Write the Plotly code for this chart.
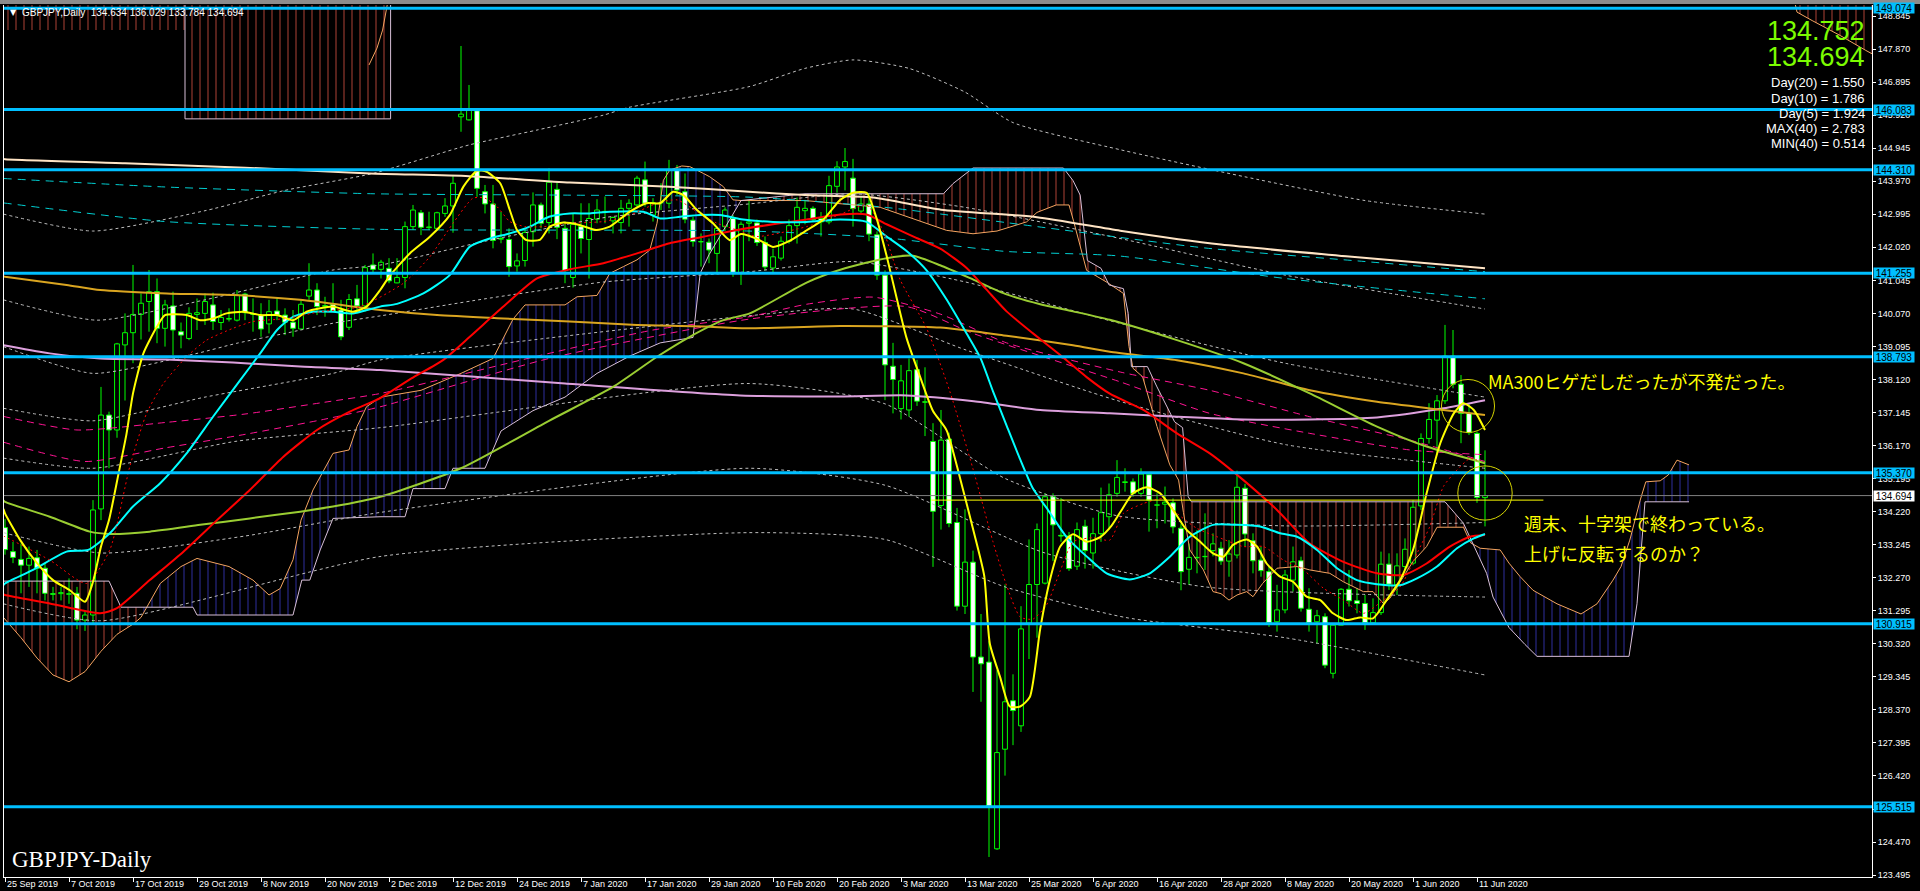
import numpy as np
import plotly.graph_objects as go

# ---------------- data ----------------
tick_labels = ["25 Sep 2019", "7 Oct 2019", "17 Oct 2019", "29 Oct 2019", "8 Nov 2019", "20 Nov 2019",
               "2 Dec 2019", "12 Dec 2019", "24 Dec 2019", "7 Jan 2020", "17 Jan 2020", "29 Jan 2020",
               "10 Feb 2020", "20 Feb 2020", "3 Mar 2020", "13 Mar 2020", "25 Mar 2020", "6 Apr 2020",
               "16 Apr 2020", "28 Apr 2020", "8 May 2020", "20 May 2020", "1 Jun 2020", "11 Jun 2020"]
bars_per_label = 8

opens = [133.75, 133.04, 132.81, 132.64, 132.86, 132.55, 131.80, 131.80, 131.78, 131.81,
         131.02, 131.17, 134.30, 137.07, 136.63, 139.14, 139.50, 140.04, 140.42, 140.71,
         139.63, 140.29, 139.53, 139.33, 140.04, 140.07, 140.32, 139.80, 139.90, 139.87,
         140.64, 140.04, 140.02, 139.76, 140.14, 140.02, 139.81, 139.61, 140.58, 140.76,
         140.28, 140.34, 140.17, 139.66, 140.50, 140.29, 141.50, 141.37, 141.40, 140.97,
         141.13, 142.63, 143.04, 142.60, 142.58, 143.02, 143.24, 145.87, 145.78, 146.05,
         143.66, 143.30, 142.26, 142.25, 141.47, 141.63, 142.48, 143.27, 142.75, 143.73,
         142.58, 141.13, 142.63, 142.25, 142.85, 143.06, 142.80, 142.75, 143.17, 143.27,
         144.01, 142.97, 143.33, 143.32, 144.32, 143.66, 142.82, 142.19, 142.17, 141.84,
         142.63, 142.87, 141.25, 142.73, 142.74, 142.16, 141.41, 141.70, 142.20, 142.66,
         143.10, 143.17, 142.87, 142.77, 143.82, 144.39, 144.06, 143.09, 143.30, 142.39,
         141.20, 138.51, 137.26, 137.22, 138.41, 137.46, 136.29, 134.40, 136.36, 133.90,
         131.43, 132.73, 129.93, 129.78, 124.27, 127.21, 128.64, 127.90, 130.93, 132.07,
         132.11, 134.66, 133.52, 133.50, 132.61, 133.79, 133.00, 133.57, 134.07, 134.76,
         135.08, 135.10, 134.76, 135.31, 134.41, 134.44, 134.48, 133.73, 132.52, 132.86,
         132.89, 133.07, 133.14, 132.76, 132.94, 134.91, 133.36, 132.79, 132.45, 130.97,
         131.32, 132.20, 132.77, 131.34, 130.97, 131.12, 129.45, 130.87, 131.93, 131.59,
         131.51, 130.94, 131.24, 132.67, 132.06, 132.60, 132.70, 134.39, 136.38, 136.92,
         137.49, 138.81, 137.98, 137.12, 136.53, 134.634]
highs = [134.00, 133.33, 133.28, 133.19, 133.09, 132.70, 132.00, 132.00, 132.25, 132.00,
         131.30, 134.56, 137.90, 137.17, 139.20, 140.07, 141.50, 140.66, 141.35, 141.10,
         140.47, 140.71, 139.80, 140.25, 140.51, 140.66, 140.68, 140.17, 140.22, 140.76,
         140.68, 140.51, 140.37, 140.47, 140.54, 140.22, 140.17, 140.47, 141.55, 140.96,
         140.56, 140.96, 140.47, 140.64, 140.91, 141.50, 141.84, 141.65, 141.70, 141.70,
         142.78, 143.27, 143.12, 143.07, 143.07, 143.47, 144.12, 147.96, 146.81, 146.10,
         143.86, 143.86, 143.07, 142.58, 141.84, 142.58, 143.64, 143.34, 144.35, 143.96,
         142.78, 143.02, 143.32, 143.32, 143.44, 143.52, 142.93, 143.42, 143.44, 144.13,
         144.55, 143.47, 143.91, 144.60, 144.45, 144.20, 142.92, 142.43, 142.28, 142.63,
         143.20, 142.97, 142.78, 143.42, 142.84, 142.34, 141.98, 142.34, 142.84, 143.49,
         143.42, 143.23, 143.06, 144.13, 144.56, 144.95, 144.63, 143.52, 143.63, 142.49,
         141.34, 139.20, 138.55, 138.74, 138.70, 138.48, 136.83, 137.22, 136.55, 134.33,
         134.29, 133.07, 131.20, 130.40, 129.54, 132.07, 129.42, 131.43, 133.40, 133.87,
         134.76, 134.76, 134.62, 133.62, 133.90, 133.98, 134.04, 134.93, 135.05, 135.74,
         135.50, 135.20, 135.50, 135.35, 134.76, 134.96, 134.61, 133.87, 133.28, 133.68,
         134.17, 133.58, 133.33, 133.38, 135.43, 135.04, 133.58, 133.19, 132.60, 132.06,
         132.50, 133.19, 132.89, 131.96, 131.32, 131.22, 130.92, 131.96, 132.50, 131.96,
         131.76, 131.66, 133.04, 132.99, 132.99, 133.43, 134.56, 136.53, 137.42, 137.66,
         139.73, 139.58, 138.25, 137.42, 136.58, 136.029]
lows = [132.95, 132.70, 131.81, 132.00, 131.81, 131.60, 131.60, 131.60, 131.50, 130.75,
        130.70, 130.90, 133.97, 135.50, 136.40, 137.50, 138.60, 139.30, 139.53, 139.19,
        139.09, 138.84, 139.04, 139.28, 139.58, 139.73, 139.58, 139.58, 139.83, 139.83,
        139.87, 139.53, 139.38, 139.48, 139.87, 139.43, 139.38, 139.58, 140.47, 140.02,
        139.97, 140.12, 139.28, 139.58, 140.07, 140.12, 141.25, 141.10, 140.96, 140.96,
        140.81, 142.53, 142.38, 142.53, 142.53, 142.92, 142.45, 145.43, 145.76, 143.51,
        143.02, 141.99, 142.14, 141.15, 141.30, 141.45, 142.04, 142.58, 142.43, 142.26,
        140.96, 140.83, 141.84, 141.10, 142.73, 142.73, 142.43, 142.43, 142.63, 143.17,
        143.22, 142.78, 143.12, 143.17, 143.56, 142.73, 142.04, 141.45, 141.55, 141.25,
        142.50, 141.15, 140.91, 142.20, 142.06, 141.34, 141.23, 141.63, 142.13, 142.13,
        142.70, 142.77, 142.34, 142.70, 143.63, 143.70, 142.63, 142.99, 142.20, 141.06,
        137.51, 137.12, 136.94, 137.02, 137.34, 136.45, 132.59, 133.69, 133.76, 131.30,
        131.20, 128.90, 128.61, 124.03, 124.24, 126.43, 127.33, 127.72, 129.87, 130.50,
        132.07, 132.76, 133.33, 132.47, 132.50, 132.54, 132.54, 133.33, 133.69, 134.66,
        134.81, 134.66, 134.66, 133.63, 133.73, 133.87, 133.58, 131.90, 132.06, 132.40,
        132.50, 132.90, 132.65, 132.30, 132.84, 133.19, 132.40, 132.30, 130.82, 130.68,
        131.22, 131.86, 131.27, 130.68, 130.33, 129.60, 129.30, 130.87, 131.42, 131.22,
        130.73, 130.92, 131.17, 131.91, 131.76, 132.50, 132.64, 134.27, 136.23, 135.94,
        137.40, 137.86, 136.24, 136.48, 134.48, 133.784]
closes = [133.10, 132.87, 132.64, 132.84, 132.55, 131.81, 131.78, 131.83, 131.80, 131.02,
          131.17, 134.27, 137.07, 136.63, 139.17, 139.50, 140.04, 140.37, 140.71, 139.63,
          140.32, 139.58, 139.43, 140.07, 140.09, 140.42, 139.83, 139.95, 139.92, 140.61,
          140.09, 140.06, 139.61, 140.12, 140.02, 139.81, 139.63, 140.34, 140.76, 140.27,
          140.30, 140.14, 139.38, 140.48, 140.29, 141.42, 141.37, 141.58, 141.03, 141.13,
          142.63, 143.12, 142.61, 142.62, 143.04, 143.24, 143.91, 145.95, 146.07, 143.76,
          143.30, 142.22, 142.28, 141.45, 141.62, 142.46, 143.27, 142.73, 143.94, 142.61,
          141.33, 142.70, 142.28, 142.87, 143.12, 143.08, 142.90, 143.17, 143.32, 144.06,
          143.32, 143.34, 143.34, 144.32, 143.71, 142.85, 142.19, 142.18, 141.94, 142.58,
          143.12, 141.25, 142.70, 142.77, 142.16, 141.44, 141.74, 142.20, 142.66, 143.20,
          143.17, 142.84, 142.77, 143.84, 144.39, 144.55, 143.16, 143.30, 142.41, 141.20,
          138.55, 138.12, 138.08, 138.38, 137.48, 137.45, 134.23, 136.33, 133.87, 131.43,
          132.73, 129.93, 129.73, 125.53, 127.11, 128.61, 128.35, 130.76, 132.07, 133.69,
          134.66, 133.83, 133.50, 132.54, 133.69, 133.07, 133.57, 134.19, 134.72, 135.23,
          135.10, 134.76, 135.33, 134.56, 134.42, 134.50, 133.77, 132.45, 132.87, 132.87,
          132.90, 133.27, 132.76, 132.97, 134.94, 133.56, 132.77, 132.48, 130.94, 131.32,
          132.35, 132.74, 131.37, 130.94, 131.15, 129.69, 130.87, 131.93, 131.59, 131.51,
          130.94, 131.24, 132.67, 132.08, 132.62, 133.11, 134.35, 136.38, 136.94, 137.49,
          138.81, 137.98, 137.12, 136.55, 134.64, 134.694]

# price levels (horizontal lines) and current bid
level_prices = [149.074, 146.083, 144.310, 141.255, 138.793, 135.370, 130.915, 125.515]
bid_price = 134.694
ask_price = 134.752
info_lines = ["Day(20) = 1.550", "Day(10) = 1.786", "Day(5) = 1.924", "MAX(40) = 2.783", "MIN(40) = 0.514"]

# moving averages: (bar index, price)
ma_yellow = [(-0.2, 134.3), (0, 134.17), (1.9, 133.38), (4, 132.7), (6, 132.2), (8.1, 131.9), (10, 131.56),
             (11, 132.15), (12, 133.19), (13, 133.97), (14.2, 135.35), (15.2, 136.53), (16, 137.71),
             (17.3, 138.89), (19, 139.68), (20, 140.02), (22.7, 140.02), (24.4, 139.87), (26, 139.92),
             (27.7, 140.07), (29.8, 140.12), (31.9, 140.02), (34, 140.02), (36, 139.87), (37.7, 140.12),
             (39.4, 140.22), (41, 140.27), (43.5, 140.12), (45.2, 140.27), (46.9, 140.76), (48, 141.15),
             (50.6, 141.84), (53.1, 142.33), (55.6, 142.97), (57.3, 143.81), (59, 144.28), (60.2, 144.25),
             (61.9, 143.91), (63.1, 143.12), (64, 142.53), (65.2, 142.23), (66.9, 142.25), (68.1, 142.63),
             (69.8, 142.75), (71.8, 142.68), (73.9, 142.53), (75.6, 142.63), (78.1, 143.07), (80.2, 143.32),
             (81.9, 143.32), (83.5, 143.66), (84.8, 143.56), (86.5, 143.12), (88.5, 142.73), (90.6, 142.23),
             (92, 142.41), (94, 142.27), (96, 142.03), (98, 142.2), (100, 142.49), (102.3, 142.84),
             (104.4, 143.42), (106, 143.63), (107.7, 143.63), (108.9, 142.91), (110.2, 141.77),
             (111.5, 140.48), (112.7, 139.34), (114.4, 138.19), (116, 137.19), (117.7, 136.62),
             (119.4, 135.19), (121.1, 133.62), (122.4, 132.33), (123.1, 130.33), (124.4, 129.33),
             (125.6, 128.47), (126.9, 128.47), (128.1, 128.75), (129.4, 130.76), (130.6, 132.19),
             (131.9, 133.19), (133.5, 133.55), (135.2, 133.33), (136.9, 133.47), (138.3, 133.8),
             (139.4, 134.2), (141, 134.76), (142.7, 134.94), (144.4, 134.76), (146, 134.27), (147.7, 133.68),
             (149.4, 133.33), (151, 132.99), (152.3, 132.89), (153.5, 133.24), (155.2, 133.4),
             (156.5, 133.19), (157.7, 132.69), (159.4, 132.3), (161, 132.15), (162.7, 131.71),
             (164.4, 131.61), (166, 131.22), (167.7, 131.02), (169.4, 131.1), (171, 131.07),
             (172.7, 131.61), (174.4, 132.2), (176, 133.09), (177.7, 134.76), (179.4, 136.23),
             (181.1, 137.12), (182.3, 137.42), (183.6, 137.22), (185, 136.63)]
ma_aqua = [(-0.2, 132.05), (0, 132.1), (3.5, 132.5), (7.7, 133.04), (10.4, 133.09), (13.1, 133.58), (16, 134.37),
           (19.4, 135.06), (22.7, 135.94), (26, 137.02), (29.4, 138.1), (31.9, 138.89), (34, 139.58),
           (36, 139.97), (38.5, 140.12), (41, 140.12), (43.5, 140.07), (46.9, 140.27), (49, 140.35),
           (52.3, 140.66), (55.6, 141.2), (58.1, 142.04), (60.6, 142.28), (63.1, 142.43), (65.6, 142.63),
           (68, 142.92), (70.6, 143.02), (73.1, 143.02), (75.6, 143.07), (79.8, 143.07), (81.9, 142.87),
           (84.4, 142.92), (86.9, 142.97), (89.4, 142.97), (92, 142.85), (96, 142.77), (100.2, 142.77),
           (104.4, 142.84), (107.7, 142.77), (110.2, 142.34), (112.7, 141.91), (115.2, 141.34),
           (117.7, 140.48), (120.2, 139.48), (121.9, 138.77), (123.5, 137.77), (125.2, 136.76),
           (126.9, 135.76), (128.5, 134.9), (130.2, 134.33), (132.7, 133.47), (135.2, 132.9),
           (137.7, 132.4), (140.6, 132.22), (143.1, 132.4), (145.6, 132.89), (148.1, 133.48),
           (151, 133.83), (154, 133.83), (156.9, 133.78), (159.4, 133.58), (161.5, 133.48), (164, 133.09),
           (166.5, 132.55), (169, 132.2), (171.5, 132.08), (174.4, 132.05), (176.5, 132.25), (179, 132.6),
           (181.5, 133.14), (183.6, 133.43), (185, 133.56)]
ma_red = [(-0.2, 131.78), (0, 131.76), (5.6, 131.51), (11.9, 131.22), (14, 131.37), (18.1, 132.2), (22.3, 133.04),
          (26.5, 133.97), (30.6, 134.86), (34.8, 135.84), (39, 136.63), (43.1, 137.17), (46.9, 137.57),
          (50.8, 138.15), (54.8, 138.7), (58.1, 139.38), (62.3, 140.27), (66.5, 141.1), (70.6, 141.37),
          (74.8, 141.55), (79, 141.84), (83.1, 142.14), (87.3, 142.33), (91.5, 142.53), (96, 142.7),
          (100.2, 142.84), (104.4, 142.99), (107.7, 142.99), (110.2, 142.7), (113.5, 142.34),
          (116.9, 141.98), (120.2, 141.41), (122.7, 140.77), (125.2, 140.13), (128.5, 139.48),
          (131.9, 138.84), (135.2, 138.19), (138.1, 137.7), (142.3, 137.22), (146.5, 136.53),
          (150.6, 135.94), (154.8, 135.15), (159, 134.27), (163.1, 133.28), (167.3, 132.74),
          (171.5, 132.4), (174.8, 132.35), (177.7, 132.69), (180.6, 133.19), (183.1, 133.48), (185, 133.53)]
ma_yellowgreen = [(-0.2, 134.55), (0, 134.51), (5.6, 134.07), (10.6, 133.63), (13.1, 133.56), (18.1, 133.63),
                  (24.4, 133.83), (30.6, 134.02), (36.9, 134.22), (41, 134.37), (46.9, 134.66), (57, 135.5),
                  (68, 136.9), (76, 137.9), (81.5, 138.79), (85.6, 139.38), (89.8, 139.87), (93.1, 140.07),
                  (100.2, 140.98), (105, 141.4), (110.2, 141.7), (113.5, 141.77), (116.9, 141.49),
                  (121.1, 141.06), (125.2, 140.63), (129.4, 140.34), (133.5, 140.13), (138.1, 139.88),
                  (146.5, 139.28), (154.8, 138.6), (163.1, 137.71), (171.5, 136.73), (177.7, 136.14),
                  (185, 135.65)]
ma_goldenrod = [(-0.2, 141.16), (0, 141.15), (7.7, 140.91), (11.9, 140.76), (20.2, 140.66), (28.5, 140.61),
                (36.9, 140.47), (46.9, 140.17), (54, 140.02), (62.3, 139.92), (70.6, 139.83), (79, 139.73),
                (87.3, 139.68), (93.1, 139.63), (104.4, 139.7), (116.9, 139.65), (125.2, 139.41),
                (133.5, 139.13), (138.1, 138.94), (146.5, 138.69), (154.8, 138.3), (163.1, 137.8),
                (171.5, 137.46), (179.8, 137.22), (185, 137.07)]
ma_plum = [(-0.2, 139.13), (0, 139.12), (5.6, 138.89), (11.9, 138.74), (20.2, 138.71), (28.5, 138.62),
           (36.9, 138.5), (46.9, 138.4), (70, 138.0), (91.9, 137.65), (104.4, 137.62), (112.7, 137.65),
           (121.1, 137.48), (129.4, 137.22), (138.1, 137.12), (146.5, 137.02), (154.8, 136.94),
           (163.1, 136.94), (171.5, 137.0), (179.8, 137.27), (185, 137.51)]
ma_bisque = [(-0.2, 144.63), (0, 144.62), (15, 144.5), (30, 144.37), (45.6, 144.2), (58, 144.12), (70.6, 143.93),
             (83, 143.81), (93, 143.66), (100, 143.56), (108.5, 143.49), (117, 143.13), (129, 142.91),
             (139.4, 142.51), (152, 142.1), (168, 141.75), (185, 141.4)]
ma_red_dotted = [(-0.2, 133.5), (0, 133.48), (5.6, 132.79), (10.2, 132.1), (13.1, 133.09), (15.6, 135.55),
                 (17.7, 137.12), (19.8, 138.0), (22.7, 138.79), (25.2, 139.28), (28.5, 139.63), (31, 139.83),
                 (35.2, 139.92), (39.4, 140.12), (44.4, 140.27), (49.8, 140.96), (53.1, 141.74), (56, 142.73),
                 (58.5, 143.47), (60, 143.47), (61.5, 143.22), (63.1, 142.78), (65, 142.63), (67.3, 142.63),
                 (70.6, 142.73), (74.8, 142.78), (78.1, 142.97), (81.5, 143.32), (84, 143.42), (86.5, 143.07),
                 (89, 142.73), (91.5, 142.53), (94, 142.34), (100.2, 142.63), (104.4, 142.99), (107.7, 143.27),
                 (109.8, 142.49), (111.9, 141.06), (115.2, 139.63), (118.1, 137.77), (121, 135.48),
                 (123.5, 133.33), (125.2, 132.04), (126.9, 131.11), (128.5, 131.05), (130.2, 131.47),
                 (131.9, 132.47), (133.5, 133.33), (136, 133.45), (138.1, 133.38), (139.8, 134.17),
                 (142.3, 134.46), (144.8, 134.6), (146.5, 134.17), (148.96, 133.73), (151.5, 133.48),
                 (154.8, 133.19), (157.3, 133.19), (159.8, 132.79), (162.3, 132.5), (164.8, 131.96),
                 (167.3, 131.61), (169.8, 131.22), (172.3, 131.61), (174.4, 132.0), (176.5, 132.99),
                 (178.1, 133.78), (179.8, 134.96), (181.5, 135.45), (183.1, 135.79), (184, 135.74)]
dashed_teal_1 = [(-0.2, 144.05), (20, 143.8), (46, 143.6), (70, 143.56), (93, 143.5), (110, 143.2), (130, 142.6),
                 (150, 142.0), (170, 141.6), (185, 141.3)]
dashed_teal_2 = [(-0.2, 143.33), (20, 142.78), (47, 142.55), (93, 142.5), (110, 142.3), (125, 141.9),
                 (139, 141.77), (160, 141.1), (185, 140.5)]
dashed_pink_1 = [(-0.2, 137.03), (9, 136.63), (20, 136.85), (30, 137.1), (40, 137.45), (47, 137.71), (68, 138.89),
                 (81, 139.58), (93, 139.97), (100.2, 140.34), (108.5, 140.55), (116.9, 140.05), (125.2, 139.2),
                 (139.4, 138.34), (150.6, 137.8), (163.1, 137.02), (175.6, 136.33), (185, 135.7)]
dashed_pink_2 = [(-0.2, 136.27), (10, 135.7), (20, 136.1), (30, 136.5), (40, 136.95), (47, 137.32), (68, 138.74),
                 (93, 139.9), (112.7, 140.27), (121, 139.48), (139.4, 138.05), (150.6, 137.12), (163.1, 136.53),
                 (175.6, 136.04), (185, 135.9)]
dotted_bands = [
    [(-0.2, 143.0), (11, 142.5), (25, 143.1), (35, 143.7), (46, 144.2), (58, 145.04), (66.5, 145.48), (74.8, 145.92),
     (78, 146.15), (93, 146.76), (100, 147.3), (106, 147.55), (113, 147.3), (120, 146.6), (126, 145.7),
     (139.4, 144.9), (155, 144.1), (170, 143.4), (185, 143.0)],
    [(-0.2, 140.47), (11.5, 139.87), (25, 140.47), (41, 141.35), (47, 141.5), (60, 142.2), (75, 142.9), (93, 143.3),
     (106, 143.6), (120, 143.2), (139, 142.3), (160, 141.2), (185, 140.2)],
    [(-0.2, 139.09), (11, 138.3), (24, 138.89), (29, 139.19), (35, 139.48), (41, 139.78), (47, 140.0), (60, 140.5),
     (75, 141.0), (93, 141.3), (106, 141.6), (120, 141.0), (139, 139.8), (160, 138.6), (185, 137.6)],
    [(-0.2, 137.27), (11, 136.9), (25, 137.6), (41, 138.3), (47, 138.7), (93, 140.0), (106, 140.2), (120, 139.0),
     (139, 137.5), (160, 136.2), (185, 135.5)],
    [(-0.2, 135.8), (11, 135.5), (29, 136.3), (47, 136.7), (93, 138.0), (110, 137.4), (125, 135.2), (139, 134.1),
     (160, 133.8), (185, 133.9)],
    [(-0.2, 133.6), (12, 133.0), (30, 133.5), (47, 134.2), (93, 135.5), (110, 135.0), (130, 133.0), (150, 132.0),
     (185, 131.7)],
    [(-0.2, 131.5), (12, 131.0), (47, 132.9), (93, 133.6), (110, 133.4), (125, 132.0), (140, 131.1), (160, 130.5),
     (185, 129.4)],
]

# Ichimoku cloud spans (bar index, price)
span_a = [(-0.2, 131.1), (2, 130.5), (4, 129.9), (6, 129.4), (8, 129.2), (10, 129.5), (12, 130.1), (14, 130.6),
          (16, 130.9), (17, 131.1), (19.4, 132.1), (22, 132.6), (24, 132.84), (28, 132.6), (31, 132.2),
          (33, 131.76), (34.4, 131.95), (36, 132.8), (37, 133.97), (38.5, 134.86), (41, 135.94), (43, 136.04),
          (44, 136.73), (45.2, 137.32), (47, 137.6), (52, 137.8), (57, 138.3), (61, 138.74), (63.5, 139.9),
          (65, 140.32), (70, 140.32), (71.5, 140.56), (74, 140.6), (75.6, 141.25), (77.3, 141.45), (79, 141.65),
          (80.6, 141.94), (81.5, 142.73), (82.3, 144.0), (83.1, 144.3), (84.6, 144.42), (85.6, 144.4),
          (87.3, 144.2), (88.1, 144.1), (89.8, 143.81), (91, 143.42), (92, 143.4), (100, 143.4), (109.4, 143.2),
          (113, 142.9), (117.7, 142.52), (121, 142.42), (124, 142.5), (127.7, 142.77), (129, 143.05),
          (131.4, 143.27), (133, 143.27), (133.6, 142.77), (134.5, 142.0), (135.2, 141.34), (137.8, 140.98),
          (139.8, 140.66), (140.5, 139.09), (141, 138.45), (142.2, 138.2), (144, 136.73), (145.6, 135.6),
          (146.7, 135.15), (147.3, 134.2), (148.1, 133.09), (149.8, 132.5), (151, 131.86), (152, 131.8),
          (153, 131.61), (154, 131.76), (155.2, 131.86), (156, 131.71), (157.2, 132.1), (159, 132.55),
          (161.5, 132.6), (163.1, 132.5), (165.6, 132.4), (167.3, 132.15), (169.8, 131.86), (171, 131.86),
          (172.3, 131.51), (173.1, 131.66), (174.4, 132.15), (176, 132.75), (177.7, 133.19), (179, 133.76),
          (182.3, 133.76), (183.2, 133.3), (184.4, 133.14), (186.9, 133.09), (188, 132.7), (189.4, 132.3),
          (191, 131.9), (194, 131.5), (197, 131.2), (199, 131.5), (201, 132.2), (202, 132.6), (203.1, 133.38),
          (204.4, 134.56), (205.1, 135.1), (206.9, 135.13), (207.9, 135.3), (209, 135.74), (210.5, 135.6)]
span_b = [(-0.2, 132.17), (13, 132.17), (14.5, 131.4), (23.5, 131.4), (24, 131.17), (36, 131.17), (37.1, 132.2),
          (38.1, 132.2), (39.4, 133.09), (41, 134.02), (47, 134.07), (50, 134.07), (51, 134.9), (55, 134.9),
          (56, 135.5), (60, 135.5), (62, 136.6), (66, 137.2), (70, 137.6), (74, 138.3), (78, 138.8),
          (81.9, 139.2), (86, 139.36), (86.9, 141.25), (88, 141.8), (90, 142.6), (92, 143.4), (100, 143.6),
          (117.3, 143.6), (118.5, 143.9), (120.2, 144.2), (121, 144.36), (132.3, 144.36), (133.5, 143.99),
          (134.4, 143.56), (134.8, 142.7), (135.3, 141.63), (137, 141.4), (138, 140.91), (139.8, 140.8),
          (140.4, 140.07), (140.8, 138.5), (142.8, 138.5), (144, 137.9), (146.2, 136.87), (147.2, 136.7),
          (147.9, 134.66), (148.3, 134.51), (180, 134.51), (182.3, 133.88), (184, 133.0), (185.2, 132.4),
          (186, 131.7), (188, 130.8), (190, 130.3), (191.5, 129.95), (203, 129.95), (204, 131.5),
          (205, 134.51), (210.5, 134.51)]
cloud_bear_ranges = [(-0.2, 17.2), (92, 183.0)]
cloud_bull_ranges = [(17.2, 92), (183.0, 210.5)]

# second (long-period) cloud near the top of the chart
span2_low = [(-0.2, 148.43), (22.5, 148.43), (22.5, 145.81), (48.2, 145.81), (48.2, 149.6)]
span2_edge = [(22.5, 149.6), (22.5, 145.81), (48.2, 145.81), (48.2, 149.6)]
span2_rise = [(45.5, 147.4), (46.5, 147.9), (47.2, 148.43), (47.8, 149.2)]
span2_right = [(223.4, 149.6), (224, 148.96), (225.9, 148.71), (229.4, 148.27), (232.6, 147.83), (234, 147.65)]

marker_line_price = 134.56
marker_line_span = (115.8, 192.3)
circle_1 = (179.56, 186.19, 136.555, 138.12)
circle_2 = (181.6, 188.4, 133.97, 135.57)

# ---------------- geometry helpers ----------------
W, H = 1920, 891
ML, MR, MT, MB = 4, 48, 5, 14
PW, PH = W - ML - MR, H - MT - MB
X0 = -0.125
X1 = X0 + PW / 8.0
Y_TOP, Y_BOT = 149.170, 123.439


def px(x):
    return (x - ML) / PW


def py(y):
    return (H - MB - y) / PH


def xs(pts):
    return [p[0] for p in pts]


def ys(pts):
    return [p[1] for p in pts]


fig = go.Figure()

# candle bodies
n = len(closes)
idx = list(range(n))
o = np.array(opens)
c = np.array(closes)
h = np.array(highs)
lo = np.array(lows)
b_lo = np.minimum(o, c)
b_hi = np.maximum(o, c)
fig.add_trace(go.Bar(x=idx, y=b_hi - b_lo, base=b_lo, width=0.6,
                     marker=dict(color=['#000000' if cc >= oo else '#FFFFFF' for oo, cc in zip(o, c)],
                                 line=dict(color='#00FF00', width=1)),
                     hoverinfo='skip'))

# wicks
wx, wy = [], []
for i in range(n):
    wx += [i, i, None, i, i, None]
    wy += [b_hi[i], h[i], None, lo[i], b_lo[i], None]
fig.add_trace(go.Scatter(x=wx, y=wy, mode='lines', line=dict(color='#00FF00', width=1), hoverinfo='skip'))


def band_poly(a, b, x0, x1):
    ax_, ay_ = np.array(xs(a)), np.array(ys(a))
    bx_, by_ = np.array(xs(b)), np.array(ys(b))
    pa = [x0] + [x for x in ax_ if x0 < x < x1] + [x1]
    pb = [x0] + [x for x in bx_ if x0 < x < x1] + [x1]
    ya = list(np.interp(pa, ax_, ay_))
    yb = list(np.interp(pb, bx_, by_))
    return pa + pb[::-1], ya + yb[::-1]


def hatch(xp, yp, color):
    fig.add_trace(go.Scatter(x=xp, y=yp, mode='lines', fill='toself', line=dict(width=0),
                             fillcolor='rgba(0,0,0,0)',
                             fillpattern=dict(shape='|', fgcolor=color, bgcolor='rgba(0,0,0,0)',
                                              size=8, solidity=0.14, fgopacity=1),
                             hoverinfo='skip'))


BEAR = '#9A3A30'
BULL = '#28288C'
for r in cloud_bear_ranges:
    hx, hy = band_poly(span_a, span_b, *r)
    hatch(hx, hy, BEAR)
for r in cloud_bull_ranges:
    hx, hy = band_poly(span_a, span_b, *r)
    hatch(hx, hy, BULL)

# upper cloud blocks
top_x = xs(span2_low) + [48.2, -0.2]
top_y = ys(span2_low) + [149.6, 149.6]
hatch(top_x, top_y, BEAR)
hatch(xs(span2_right) + [234, 223.4], ys(span2_right) + [149.6, 149.6], BEAR)


def line(pts, color, width=1, dash=None, shape='linear'):
    fig.add_trace(go.Scatter(x=xs(pts), y=ys(pts), mode='lines',
                             line=dict(color=color, width=width, dash=dash, shape=shape, smoothing=0.6),
                             hoverinfo='skip'))


line(span_a, '#F4A460', 1)
line(span_b, '#D8BFD8', 1)
line(span2_edge, '#D8BFD8', 1)
line(span2_rise, '#F4A460', 1)
line(span2_right, '#F4A460', 1)

for band in dotted_bands:
    line(band, '#BEBEBE', 1, '3px,3px', 'spline')
line(dashed_teal_1, '#00CED1', 1, '8px,6px', 'spline')
line(dashed_teal_2, '#00CED1', 1, '8px,6px', 'spline')
line(dashed_pink_1, '#FF1493', 1, '7px,5px', 'spline')
line(dashed_pink_2, '#FF1493', 1, '7px,5px', 'spline')

line(ma_bisque, '#FFE4C4', 2, None, 'spline')
line(ma_plum, '#DDA0DD', 2, None, 'spline')
line(ma_goldenrod, '#DAA520', 2, None, 'spline')
line(ma_yellowgreen, '#9ACD32', 2, None, 'spline')
line(ma_red, '#FF0000', 2, None, 'spline')
line(ma_aqua, '#00FFFF', 2, None, 'spline')
line(ma_red_dotted, '#FF0000', 1, '2px,3px', 'spline')
line(ma_yellow, '#FFFF00', 2, None, 'spline')

# short yellow marker line
fig.add_trace(go.Scatter(x=list(marker_line_span), y=[marker_line_price] * 2, mode='lines',
                         line=dict(color='#FFFF00', width=1), hoverinfo='skip'))

shapes = []
annotations = []
# bid line
shapes.append(dict(type='line', xref='paper', x0=0, x1=1, yref='y', y0=bid_price, y1=bid_price,
                   line=dict(color='#808080', width=1), layer='above'))
for lv in level_prices:
    shapes.append(dict(type='line', xref='paper', x0=0, x1=1, yref='y', y0=lv, y1=lv,
                       line=dict(color='#00BFFF', width=3), layer='above'))
    annotations.append(dict(xref='paper', x=1, xanchor='left', xshift=1, yref='y', y=lv, yanchor='middle',
                            text=f"{lv:.3f}", showarrow=False, bgcolor='#00BFFF', width=40, height=10,
                            font=dict(color='#000000', size=10, family='Liberation Sans'), borderpad=0))
annotations.append(dict(xref='paper', x=1, xanchor='left', xshift=1, yref='y', y=bid_price, yanchor='middle',
                        text=f"{bid_price:.3f}", showarrow=False, bgcolor='#FFFFFF', width=40, height=10,
                        font=dict(color='#000000', size=10, family='Liberation Sans'), borderpad=0))

# circles
for cx0, cx1, cy0, cy1 in (circle_1, circle_2):
    shapes.append(dict(type='circle', xref='x', yref='y', x0=cx0, x1=cx1, y0=cy0, y1=cy1,
                       line=dict(color='#D4D400', width=1), layer='above'))

# top gray window edge
shapes.append(dict(type='rect', xref='paper', yref='paper', x0=px(0), x1=px(W), y0=py(4), y1=py(0),
                   fillcolor='#8C8C8C', line=dict(width=0), layer='above'))

# date labels
for k, lab in enumerate(tick_labels):
    annotations.append(dict(xref='x', x=k * bars_per_label, yref='paper', y=py(884), xanchor='left',
                            yanchor='middle', xshift=1, text=lab, showarrow=False, borderpad=0,
                            font=dict(color='#FFFFFF', size=9, family='Liberation Sans')))

# header
annotations.append(dict(xref='paper', yref='paper', x=px(8), y=py(13), xanchor='left', yanchor='middle',
                        text='▼', showarrow=False, font=dict(color='#FFFFFF', size=8, family='DejaVu Sans')))
annotations.append(dict(xref='paper', yref='paper', x=px(20), y=py(13), xanchor='left', yanchor='middle',
                        text='GBPJPY,Daily  134.634 136.029 133.784 134.694', showarrow=False,
                        font=dict(color='#FFFFFF', size=10, family='Liberation Sans')))
# big prices
annotations.append(dict(xref='paper', yref='paper', x=px(1867), y=py(31), xanchor='right', yanchor='middle',
                        text=f"{ask_price:.3f}", showarrow=False,
                        font=dict(color='#7CFC00', size=27, family='Liberation Sans')))
annotations.append(dict(xref='paper', yref='paper', x=px(1867), y=py(57), xanchor='right', yanchor='middle',
                        text=f"{bid_price:.3f}", showarrow=False,
                        font=dict(color='#7CFC00', size=27, family='Liberation Sans')))
for k, t in enumerate(info_lines):
    annotations.append(dict(xref='paper', yref='paper', x=px(1867), y=py(83 + 15.2 * k), xanchor='right',
                            yanchor='middle', text=t, showarrow=False,
                            font=dict(color='#FFFFFF', size=13, family='Liberation Sans')))
# comments
jp = 'Noto Sans CJK JP'
annotations.append(dict(xref='paper', yref='paper', x=px(1486), y=py(381), xanchor='left', yanchor='middle',
                        text='MA300ヒゲだしだったが不発だった。', showarrow=False,
                        font=dict(color='#FFFF00', size=18, family=jp)))
annotations.append(dict(xref='paper', yref='paper', x=px(1522), y=py(523), xanchor='left', yanchor='middle',
                        text='週末、十字架で終わっている。', showarrow=False,
                        font=dict(color='#FFFF00', size=18, family=jp)))
annotations.append(dict(xref='paper', yref='paper', x=px(1522), y=py(553), xanchor='left', yanchor='middle',
                        text='上げに反転するのか？', showarrow=False,
                        font=dict(color='#FFFF00', size=18, family=jp)))
annotations.append(dict(xref='paper', yref='paper', x=px(10), y=py(859), xanchor='left', yanchor='middle',
                        text='GBPJPY-Daily', showarrow=False,
                        font=dict(color='#FFFFFF', size=23, family='Liberation Serif')))

ytick = [round(148.845 - 0.975 * k, 3) for k in range(27)]
fig.update_layout(
    width=W, height=H, margin=dict(l=ML, r=MR, t=MT, b=MB, pad=0),
    paper_bgcolor='#000000', plot_bgcolor='#000000', showlegend=False, barmode='overlay',
    hovermode=False, shapes=shapes, annotations=annotations,
    font=dict(family='Liberation Sans', color='#FFFFFF', size=9),
    xaxis=dict(range=[X0, X1], showgrid=False, zeroline=False, showline=True, linecolor='#FFFFFF', linewidth=1,
               ticks='outside', ticklen=4, tickcolor='#FFFFFF',
               tickvals=[k * bars_per_label for k in range(len(tick_labels))], showticklabels=False,
               fixedrange=True),
    yaxis=dict(range=[Y_BOT, Y_TOP], side='right', showgrid=False, zeroline=False, showline=True, mirror=True,
               linecolor='#FFFFFF', linewidth=1, ticks='outside', ticklen=3, tickcolor='#FFFFFF',
               tickvals=ytick, ticktext=[f"{v:.3f}" for v in ytick],
               tickfont=dict(color='#FFFFFF', size=9, family='Liberation Sans'), fixedrange=True),
)
fig.write_html("out.html", config={'displayModeBar': False},
               post_script="document.body.style.margin='0';document.body.style.overflow='hidden';"
                           "document.body.style.background='#000';")
